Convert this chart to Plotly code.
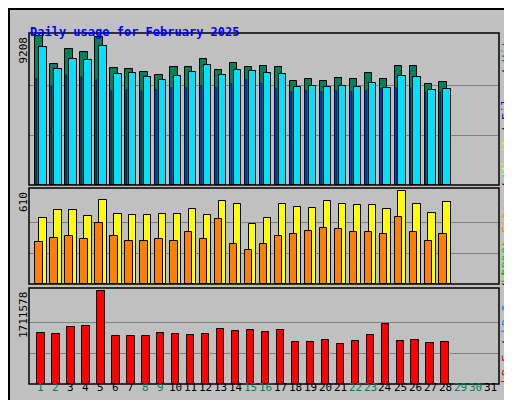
import plotly.graph_objects as go

days = list(range(1, 29))
all_days = list(range(1, 32))
weekend_days = [1, 2, 8, 9, 15, 16, 22, 23, 29, 30]

hits = [9208, 7465, 8400, 8210, 9145, 7215, 7155, 6965, 6780, 7280, 7280, 7775, 7090, 7525,
        7280, 7340, 7280, 6405, 6530, 6405, 6595, 6530, 6905, 6530, 7340, 7340, 6220, 6345]
files = [8520, 7155, 7775, 7715, 8585, 6840, 6905, 6655, 6470, 6720, 6965, 7400, 6780, 7090,
         7030, 6905, 6840, 6035, 6095, 6035, 6095, 6035, 6280, 5970, 6720, 6655, 5845, 5910]
pages = [6530, 6095, 6780, 6655, 6470, 5785, 5845, 5785, 5845, 5970, 5970, 6095, 5970, 6220,
         6470, 6220, 5910, 5720, 5785, 5720, 5785, 5720, 5785, 5910, 5970, 5970, 5720, 5720]
visits = [431, 484, 484, 444, 550, 458, 451, 451, 458, 458, 491, 451, 544, 524,
          391, 431, 524, 504, 497, 544, 524, 517, 517, 491, 610, 524, 464, 537]
sites = [278, 305, 312, 292, 398, 312, 285, 285, 298, 285, 338, 292, 424, 265,
         225, 265, 318, 331, 345, 365, 358, 338, 338, 331, 438, 338, 285, 331]
kbytes = [930200, 911600, 1041800, 1060400, 1711578, 874400, 874400, 874400, 930200, 911600,
          893000, 911600, 1004600, 967400, 986000, 948800, 986000, 781400, 781400, 818600,
          744200, 800000, 893000, 1097600, 800000, 818600, 762800, 781400]

W, H = 512, 400
def px(x): return x / W
def py(y): return 1 - y / H

MONO = "DejaVu Sans Mono"
fig = go.Figure()
line = dict(color="black", width=1)

def shifted(d, o): return [v + o for v in d]

fig.add_trace(go.Bar(x=shifted(days, -0.13), y=hits, width=0.5, marker=dict(color="#00805C", line=line), xaxis="x", yaxis="y"))
fig.add_trace(go.Bar(x=shifted(days, 0.13), y=files, width=0.5, marker=dict(color="#00E0FF", line=line), xaxis="x", yaxis="y"))
fig.add_trace(go.Bar(x=shifted(days, -0.3), y=pages, width=0.1, marker=dict(color="#0040FF", line=dict(color="black", width=0.5)), xaxis="x", yaxis="y"))
fig.add_trace(go.Bar(x=shifted(days, 0.13), y=visits, width=0.5, marker=dict(color="#FFFF00", line=line), xaxis="x2", yaxis="y2"))
fig.add_trace(go.Bar(x=shifted(days, -0.13), y=sites, width=0.5, marker=dict(color="#FF8000", line=line), xaxis="x2", yaxis="y2"))
fig.add_trace(go.Bar(x=days, y=kbytes, width=0.5, marker=dict(color="#FF0000", line=line), xaxis="x3", yaxis="y3"))

panels = [("y", "x", max(hits), 25, 177), ("y2", "x2", max(visits), 180, 276), ("y3", "x3", max(kbytes), 280, 376)]
layout = dict(width=W, height=H, margin=dict(l=0, r=0, t=0, b=0), paper_bgcolor="#C0C0C0",
              plot_bgcolor="#C0C0C0", showlegend=False, barmode="overlay", bargap=0)
shapes, annots = [], []
for ya, xa, m, top, bot in panels:
    sfx = ya[1:]
    layout["xaxis" + sfx] = dict(domain=[px(21), px(490)], range=[0.2, 31.53], showticklabels=False,
                                 showgrid=False, zeroline=False, anchor=ya, fixedrange=True)
    layout["yaxis" + sfx] = dict(domain=[py(bot), py(top)], range=[0, m * (bot - top) / (bot - top - 3)],
                                 tickvals=[m / 3, 2 * m / 3], showticklabels=False, gridcolor="#808080",
                                 zeroline=False, anchor=xa, fixedrange=True)
    shapes.append(dict(type="rect", xref="paper", yref="paper", x0=px(21), x1=px(491), y0=py(bot), y1=py(top),
                       line=dict(color="black", width=1.5)))
    annots.append(dict(x=px(15), y=py(top + 2), xref="paper", yref="paper", text=str(m), textangle=-90,
                       showarrow=False, xanchor="center", yanchor="top", font=dict(family=MONO, size=11, color="black")))

# right-hand vertical legends, built bottom-to-top from coloured segments
FS = 12
CW = FS * 0.602
legends = [
    (170, [("Pages", "#00E0FF"), (" / ", "#000000"), ("Files", "#0000FF"), (" / ", "#000000"), ("Hits", "#00805C")]),
    (276, [("kB Out ", "#00C000"), ("Sites", "#FF8000"), (" / ", "#000000"), ("Visits", "#FFFF00")]),
    (376, [("kB F", "#FF0000"), (" / ", "#000000"), ("kB In", "#0080FF"), (" / ", "#000000"), ("kB Ou", "#00C000")]),
]
for ybot, segs in legends:
    off = 0
    for txt, col in segs:
        n = len(txt)
        if txt.strip():
            lead = len(txt) - len(txt.lstrip())
            core = txt.strip()
            c = ybot - (off + lead + len(core) / 2) * CW
            annots.append(dict(x=px(499), y=py(c), xref="paper", yref="paper", text=core, textangle=-90,
                               showarrow=False, xanchor="center", yanchor="middle",
                               font=dict(family=MONO, size=FS, color=col)))
        off += n

for d in all_days:
    annots.append(dict(x=d, y=py(388), xref="x3", yref="paper", text=str(d), showarrow=False,
                       font=dict(family=MONO, size=11, color="#00805C" if d in weekend_days else "black")))

annots.append(dict(x=px(20), y=py(15), xref="paper", yref="paper", text="<b>Daily usage for February 2025</b>",
                   showarrow=False, xanchor="left", font=dict(family=MONO, size=12, color="#0000FF")))

# frame + shadow
shapes.append(dict(type="rect", xref="paper", yref="paper", x0=px(506), x1=1, y0=0, y1=1, fillcolor="#808080", line=dict(width=0)))
shapes.append(dict(type="rect", xref="paper", yref="paper", x0=0, x1=1, y0=0, y1=py(394), fillcolor="#808080", line=dict(width=0)))
shapes.append(dict(type="rect", xref="paper", yref="paper", x0=px(1), x1=px(511), y0=py(399), y1=py(1), line=dict(color="black", width=2)))
layout["shapes"] = shapes
layout["annotations"] = annots
fig.update_layout(**layout)
fig.write_html("out.html")
